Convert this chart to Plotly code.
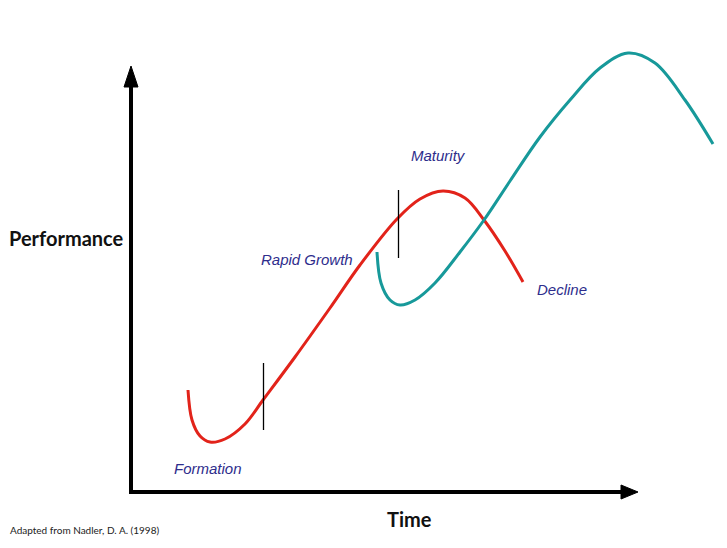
import plotly.graph_objects as go

red_time = [188, 192, 200, 210, 225, 245, 263, 295, 330, 360, 397, 420, 443, 465, 484, 505, 523]
red_perf = [390, 420, 436, 442, 439, 424, 400, 357, 308, 265, 219, 199, 191, 198, 220, 251, 282]
teal_time = [377, 381, 390, 400, 415, 435, 460, 484, 510, 540, 570, 600, 628, 655, 685, 713]
teal_perf = [252, 283, 300, 305, 300, 283, 252, 220, 181, 137, 100, 68, 53, 63, 100, 144]

stage_labels = ["Formation", "Rapid Growth", "Maturity", "Decline"]
H = 548

def cy(v):
    return H - v

fig = go.Figure()
fig.add_trace(go.Scatter(x=red_time, y=[cy(v) for v in red_perf], mode="lines",
                         line=dict(color="#e2231a", width=3, shape="spline", smoothing=1.0),
                         hoverinfo="skip", showlegend=False))
fig.add_trace(go.Scatter(x=teal_time, y=[cy(v) for v in teal_perf], mode="lines",
                         line=dict(color="#17999a", width=3, shape="spline", smoothing=1.0),
                         hoverinfo="skip", showlegend=False))

shapes = []
# axes
shapes.append(dict(type="line", x0=131, x1=131, y0=cy(494), y1=cy(84), line=dict(color="black", width=4)))
shapes.append(dict(type="line", x0=129, x1=624, y0=cy(492), y1=cy(492), line=dict(color="black", width=4)))
shapes.append(dict(type="path", path=f"M 124 {cy(87)} L 131 {cy(66)} L 138 {cy(87)} Z",
                   fillcolor="black", line=dict(color="black", width=1)))
shapes.append(dict(type="path", path=f"M 621 {cy(485)} L 638 {cy(492)} L 621 {cy(499)} Z",
                   fillcolor="black", line=dict(color="black", width=1)))
# stage dividers
shapes.append(dict(type="line", x0=263.5, x1=263.5, y0=cy(363), y1=cy(430), line=dict(color="black", width=1.3)))
shapes.append(dict(type="line", x0=398.5, x1=398.5, y0=cy(190), y1=cy(258), line=dict(color="black", width=1.3)))

label_pos = [(208, 468), (307, 259), (438, 155), (562, 289)]
ann = []
for t, (x, y) in zip(stage_labels, label_pos):
    ann.append(dict(x=x, y=cy(y), text=t, showarrow=False, xanchor="center", yanchor="middle",
                    font=dict(family="Liberation Sans", size=15, color="#2e2d8c", style="italic")))
ann.append(dict(x=7, y=cy(238), text="Performance", showarrow=False, xanchor="left", yanchor="middle",
                font=dict(family="Lato", size=20, color="#111111", weight="bold")))
ann.append(dict(x=409, y=cy(519), text="Time", showarrow=False, xanchor="center", yanchor="middle",
                font=dict(family="Lato", size=20, color="#111111", weight="bold")))
ann.append(dict(x=8, y=cy(530), text="Adapted from Nadler, D. A. (1998)", showarrow=False,
                xanchor="left", yanchor="middle",
                font=dict(family="Lato", size=10, color="#222222")))

fig.update_layout(width=727, height=548, margin=dict(l=0, r=0, t=0, b=0),
                  paper_bgcolor="white", plot_bgcolor="white",
                  xaxis=dict(range=[0, 727], visible=False, fixedrange=True),
                  yaxis=dict(range=[0, 548], visible=False, fixedrange=True),
                  shapes=shapes, annotations=ann)
fig.write_html("out.html", config={"displayModeBar": False},
               post_script="document.body.style.margin='0';document.body.style.padding='0';")
